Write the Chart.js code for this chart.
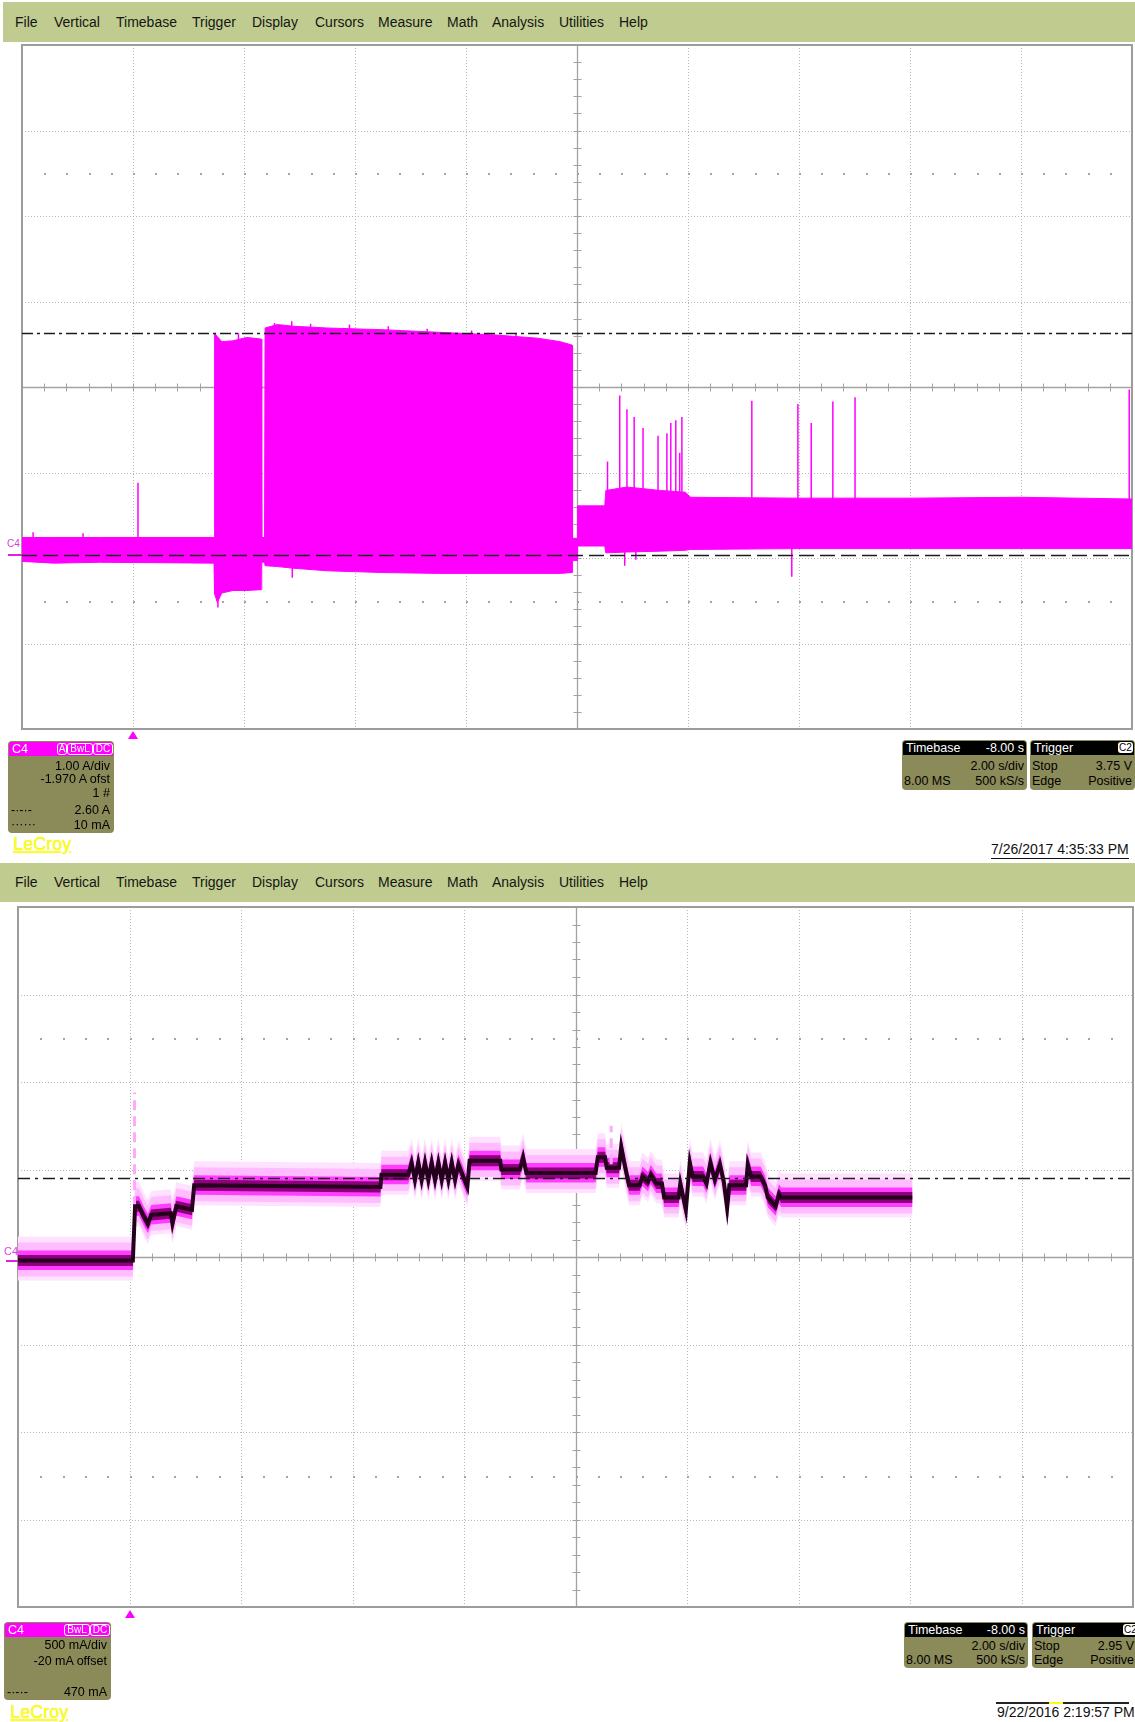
<!DOCTYPE html>
<html lang="en">
<head>
<meta charset="UTF-8">
<title>LeCroy C4 current captures</title>
<script src="https://cdn.jsdelivr.net/npm/chart.js@4.4.1/dist/chart.umd.min.js"></script>
<style>
    body {
        margin: 0;
        width: 1135px;
        height: 1722px;
        overflow: hidden;
        position: relative;
        background: #fff;
        font-family: "Liberation Sans", Arial, sans-serif;
    }
    .menu { position: absolute; right: 0; height: 40px; background: #c0cc8f; }
    .menu span { position: absolute; top: 0; line-height: 40px; font-size: 14px; color: #151515; }
    canvas { position: absolute; }
    .box { position: absolute; background: #8b8a59; border-radius: 4px; font-size: 12.5px; color: #000; overflow: hidden; }
    .box .hdr { position: absolute; left: 1px; right: 1px; top: 1px; height: 14px; border-radius: 3px 3px 0 0; }
    .mag { background: #ff00ff; }
    .blk { background: #000; }
    .box span { position: absolute; line-height: 14px; white-space: nowrap; }
    .box .w { color: #fff; }
    .box .badge { top: 2px; height: 10px; line-height: 10px; font-size: 10px; color: #fff; border: 1px solid #fff; border-radius: 3px; text-align: center; }
    .box .chip { top: 2px; height: 11px; line-height: 11px; font-size: 10px; color: #000; background: #fff; border-radius: 3px; text-align: center; }
    .brand { position: absolute; font-size: 18px; color: #ffff1e; text-decoration: underline; text-decoration-thickness: 2px; text-shadow: 0 0 1px #d8d800; }
    .stamp { position: absolute; font-size: 14px; color: #111; white-space: nowrap; }
    .trig { position: absolute; width: 0; height: 0; border-left: 5px solid transparent; border-right: 5px solid transparent; border-bottom: 8px solid #ff00ff; }
    .tag { position: absolute; font-size: 10px; color: #d23cd2; }
    .tagline { position: absolute; height: 2px; background: #e020e0; }
</style>
</head>
<body>
<div class="menu" style="left:3px;top:2px">
    <span style="left:12px">File</span><span style="left:51px">Vertical</span><span style="left:113px">Timebase</span>
    <span style="left:189px">Trigger</span><span style="left:249px">Display</span><span style="left:312px">Cursors</span>
    <span style="left:375px">Measure</span><span style="left:444px">Math</span><span style="left:489px">Analysis</span>
    <span style="left:556px">Utilities</span><span style="left:616px">Help</span>
</div>
<div class="menu" style="left:0;top:863px;height:39px">
    <span style="left:15px;line-height:39px">File</span><span style="left:54px;line-height:39px">Vertical</span><span style="left:116px;line-height:39px">Timebase</span>
    <span style="left:192px;line-height:39px">Trigger</span><span style="left:252px;line-height:39px">Display</span><span style="left:315px;line-height:39px">Cursors</span>
    <span style="left:378px;line-height:39px">Measure</span><span style="left:447px;line-height:39px">Math</span><span style="left:492px;line-height:39px">Analysis</span>
    <span style="left:559px;line-height:39px">Utilities</span><span style="left:619px;line-height:39px">Help</span>
</div>

<canvas id="topScope" width="1122" height="696" style="left:16px;top:39px"></canvas>
<canvas id="botScope" width="1127" height="712" style="left:12px;top:901px"></canvas>

<span class="tag" style="left:7px;top:538px">C4</span>
<div class="tagline" style="left:8px;top:554px;width:14px"></div>
<span class="tag" style="left:4px;top:1245px;font-size:11px;color:#e040e0">C4</span>
<div class="tagline" style="left:6px;top:1260px;width:12px"></div>
<div class="trig" style="left:128px;top:731px"></div>
<div class="trig" style="left:125px;top:1610px"></div>

<!-- top panel info -->
<div class="box" style="left:8px;top:741px;width:106px;height:92px">
    <div class="hdr mag"></div>
    <span class="w" style="left:4px;top:1px">C4</span>
    <span class="badge" style="left:49px;width:8px">A</span>
    <span class="badge" style="left:59px;width:24px">BwL</span>
    <span class="badge" style="left:85px;width:18px">DC</span>
    <span style="right:4px;top:18px">1.00 A/div</span>
    <span style="right:4px;top:31px">-1.970 A ofst</span>
    <span style="right:4px;top:45px">1 #</span>
    <span style="left:3px;top:62px">-·-·-</span>
    <span style="right:4px;top:62px">2.60 A</span>
    <span style="left:3px;top:76px">······</span>
    <span style="right:4px;top:77px">10 mA</span>
</div>
<div class="box" style="left:902px;top:740px;width:125px;height:50px">
    <div class="hdr blk"></div>
    <span class="w" style="left:4px;top:1px">Timebase</span>
    <span class="w" style="right:3px;top:1px">-8.00 s</span>
    <span style="right:3px;top:19px">2.00 s/div</span>
    <span style="left:2px;top:34px">8.00 MS</span>
    <span style="right:3px;top:34px">500 kS/s</span>
</div>
<div class="box" style="left:1030px;top:740px;width:105px;height:50px">
    <div class="hdr blk"></div>
    <span class="w" style="left:4px;top:1px">Trigger</span>
    <span class="chip" style="left:88px;width:15px">C2</span>
    <span style="left:2px;top:19px">Stop</span>
    <span style="right:3px;top:19px">3.75 V</span>
    <span style="left:2px;top:34px">Edge</span>
    <span style="right:3px;top:34px">Positive</span>
</div>
<span class="brand" style="left:13px;top:834px">LeCroy</span>
<span class="stamp" style="left:991px;top:840px;border-bottom:1px solid #111;line-height:18px">7/26/2017 4:35:33 PM</span>

<!-- bottom panel info -->
<div class="box" style="left:4px;top:1622px;width:107px;height:78px">
    <div class="hdr mag"></div>
    <span class="w" style="left:4px;top:1px">C4</span>
    <span class="badge" style="left:60px;width:24px">BwL</span>
    <span class="badge" style="left:86px;width:18px">DC</span>
    <span style="right:4px;top:16px">500 mA/div</span>
    <span style="right:4px;top:32px">-20 mA offset</span>
    <span style="left:3px;top:63px">-·-·-</span>
    <span style="right:4px;top:63px">470 mA</span>
</div>
<div class="box" style="left:904px;top:1622px;width:124px;height:46px">
    <div class="hdr blk"></div>
    <span class="w" style="left:4px;top:1px">Timebase</span>
    <span class="w" style="right:3px;top:1px">-8.00 s</span>
    <span style="right:3px;top:17px">2.00 s/div</span>
    <span style="left:2px;top:31px">8.00 MS</span>
    <span style="right:3px;top:31px">500 kS/s</span>
</div>
<div class="box" style="left:1032px;top:1622px;width:108px;height:46px">
    <div class="hdr blk"></div>
    <span class="w" style="left:4px;top:1px">Trigger</span>
    <span class="chip" style="left:91px;width:15px">C2</span>
    <span style="left:2px;top:17px">Stop</span>
    <span style="right:6px;top:17px">2.95 V</span>
    <span style="left:2px;top:31px">Edge</span>
    <span style="right:6px;top:31px">Positive</span>
</div>
<span class="brand" style="left:10px;top:1702px">LeCroy</span>
<div style="position:absolute;left:996px;top:1702px;width:133px;height:2px;background:#222"></div>
<div style="position:absolute;left:1049px;top:1702px;width:14px;height:2px;background:#ffff00"></div>
<span class="stamp" style="left:997px;top:1704px">9/22/2016 2:19:57 PM</span>

<script>
    // time axis (s), 2 s/div, trigger at 0
    const xTicks = [-2, 0, 2, 4, 6, 8, 10, 12, 14, 16, 18];
    // top: 1.00 A/div, -1.970 A offset
    const topYTicks = [-2.03, -1.03, -0.03, 0.97, 1.97, 2.97, 3.97, 4.97, 5.97];
    // bottom: 500 mA/div, -20 mA offset
    const botYTicks = [-1.98, -1.48, -0.98, -0.48, 0.02, 0.52, 1.02, 1.52, 2.02];

    // top capture, min/max envelope of C4 (A)
    const topTimes = [-2.00, -1.42, -0.60, 1.46, 1.47, 1.52, 1.60, 1.80, 2.05, 2.31, 2.32, 2.37, 2.38, 2.60, 2.90, 3.50,
        4.50, 5.50, 6.50, 7.30, 7.70, 7.91, 7.92, 8.00, 8.01, 8.50, 8.52, 8.90, 9.50, 9.95, 10.05, 12.00, 14.00, 16.00, 18.00];
    const topUpper = [0.21, 0.21, 0.21, 0.21, 2.60, 2.56, 2.50, 2.51, 2.55, 2.53, 0.21, 0.21, 2.66, 2.70, 2.68, 2.66,
        2.64, 2.61, 2.58, 2.54, 2.50, 2.46, 0.20, 0.20, 0.58, 0.58, 0.76, 0.80, 0.76, 0.74, 0.68, 0.67, 0.67, 0.68, 0.66];
    const topLower = [-0.07, -0.09, -0.08, -0.09, -0.45, -0.55, -0.44, -0.41, -0.41, -0.40, -0.08, -0.08, -0.12, -0.13, -0.15, -0.18,
        -0.20, -0.21, -0.21, -0.21, -0.21, -0.20, -0.06, -0.06, 0.11, 0.11, 0.03, 0.04, 0.05, 0.06, 0.07, 0.08, 0.08, 0.08, 0.08];
    // glitches
    const topSpikeTimes = [-1.80, -0.90, 0.09, 1.53, 1.90, 2.55, 2.86, 2.87, 3.20, 3.90, 4.60, 5.30, 6.10, 6.90,
        8.55, 8.77, 8.86, 8.90, 9.03, 9.06, 9.19, 9.46, 9.62, 9.69, 9.78, 9.85, 9.89, 11.15, 11.87, 11.98, 12.22, 12.61, 13.01, 17.95];
    const topSpikeFrom = [0.1, 0.1, 0.2, -0.4, 2.4, 2.6, 2.6, -0.1, 2.6, 2.6, 2.6, 2.5, 2.5, 2.5,
        0.6, 0.6, 0.1, 0.6, 0.6, 0.1, 0.6, 0.6, 0.6, 0.6, 0.6, 0.6, 0.6, 0.6, 0.1, 0.6, 0.6, 0.6, 0.6, 0.6];
    const topSpikeTo = [0.27, 0.26, 0.85, -0.61, 2.60, 2.72, 2.74, -0.26, 2.71, 2.70, 2.68, 2.65, 2.63, 2.60,
        1.10, 1.87, -0.12, 1.71, 1.62, -0.05, 1.49, 1.40, 1.43, 1.55, 1.58, 1.20, 1.62, 1.81, -0.25, 1.77, 1.55, 1.80, 1.85, 1.94];
    const topCursors = [2.60, 0.01];

    // bottom capture, persistence core of C4 (A)
    const botTimes = [-2.00, 0.06, 0.10, 0.17, 0.26, 0.33, 0.39, 0.74, 0.77, 0.84, 1.12, 1.16, 4.50, 4.52, 5.00,
        5.06, 5.12, 5.18, 5.24, 5.30, 5.36, 5.42, 5.48, 5.54, 5.60, 5.66, 5.72, 5.78, 5.84, 5.90, 5.96, 6.06, 6.10,
        6.65, 6.67, 7.00, 7.06, 7.12, 7.69, 8.36, 8.40, 8.53, 8.56, 8.78, 8.82, 8.88, 8.96, 9.15,
        9.20, 9.30, 9.35, 9.45, 9.55, 9.59, 9.85, 9.88, 9.98, 10.05, 10.10, 10.29, 10.35, 10.42, 10.50, 10.59, 10.66,
        10.72, 10.76, 11.06, 11.09, 11.15, 11.32, 11.40, 11.45, 11.59, 11.65, 11.69, 14.04];
    const botCurrent = [0.00, 0.00, 0.31, 0.31, 0.25, 0.21, 0.26, 0.27, 0.21, 0.31, 0.29, 0.43, 0.42, 0.49, 0.49,
        0.56, 0.46, 0.56, 0.46, 0.56, 0.46, 0.56, 0.46, 0.56, 0.46, 0.56, 0.46, 0.56, 0.46, 0.55, 0.50, 0.42, 0.57,
        0.57, 0.52, 0.52, 0.59, 0.50, 0.50, 0.50, 0.59, 0.59, 0.53, 0.53, 0.65, 0.55, 0.43, 0.43,
        0.48, 0.45, 0.49, 0.44, 0.44, 0.36, 0.36, 0.44, 0.29, 0.56, 0.48, 0.48, 0.44, 0.56, 0.46, 0.55, 0.45,
        0.30, 0.43, 0.43, 0.55, 0.48, 0.48, 0.43, 0.36, 0.31, 0.38, 0.36, 0.36];
    // thin excursions outside the dense trace
    const botSpikeTimes = [0.09, 8.64, 10.72];
    const botSpikeFrom = [0.31, 0.55, 0.40];
    const botSpikeTo = [0.96, 0.77, 0.22];
    const botCursors = [0.47];

    function hline(ctx, x1, x2, y) { ctx.beginPath(); ctx.moveTo(x1, y); ctx.lineTo(x2, y); ctx.stroke(); }
    function vline(ctx, x, y1, y2) { ctx.beginPath(); ctx.moveTo(x, y1); ctx.lineTo(x, y2); ctx.stroke(); }

    function makeGrid(yt) {
        return {
            id: 'scopeGrid',
            beforeDatasetsDraw(chart) {
                const { ctx, chartArea: a, scales: { x, y } } = chart;
                const xStep = xTicks[1] - xTicks[0], yStep = yt[1] - yt[0];
                const nx = xTicks.length - 1, ny = yt.length - 1;
                ctx.save();
                ctx.lineWidth = 1;
                ctx.strokeStyle = '#b7b7b7';
                ctx.setLineDash([1, 2]);
                xTicks.slice(1, -1).forEach(v => vline(ctx, Math.round(x.getPixelForValue(v)) + 0.5, a.top, a.bottom));
                yt.slice(1, -1).forEach(v => hline(ctx, a.left, a.right, Math.round(y.getPixelForValue(v)) + 0.5));
                ctx.setLineDash([]);
                // dotted rows 1.5 div in from top and bottom
                ctx.fillStyle = '#a4a4a4';
                [yt[0] + 1.5 * yStep, yt[ny] - 1.5 * yStep].forEach(v => {
                    const py = Math.round(y.getPixelForValue(v));
                    for (let i = 1; i < nx * 5; i++) {
                        ctx.fillRect(Math.round(x.getPixelForValue(xTicks[0] + i * xStep / 5)), py, 2, 2);
                    }
                });
                // centre axes with minor ticks
                const cx = Math.round(x.getPixelForValue(xTicks[nx / 2])) + 0.5;
                const cy = Math.round(y.getPixelForValue(yt[ny / 2])) + 0.5;
                ctx.strokeStyle = '#a2a2a2';
                ctx.lineWidth = 1.3;
                vline(ctx, cx, a.top, a.bottom);
                hline(ctx, a.left, a.right, cy);
                ctx.lineWidth = 1;
                for (let i = 1; i < nx * 5; i++) {
                    const px = Math.round(x.getPixelForValue(xTicks[0] + i * xStep / 5)) + 0.5;
                    vline(ctx, px, cy - 4, cy + 4);
                }
                for (let i = 1; i < ny * 5; i++) {
                    const py = Math.round(y.getPixelForValue(yt[0] + i * yStep / 5)) + 0.5;
                    hline(ctx, cx - 4, cx + 4, py);
                }
                ctx.strokeStyle = '#9c9c9c';
                ctx.lineWidth = 2;
                ctx.strokeRect(a.left, a.top, a.width, a.height);
                ctx.restore();
            }
        };
    }

    function makeCursors(lines) {
        return {
            id: 'cursorLines',
            afterDatasetsDraw(chart) {
                const { ctx, chartArea: a, scales: { y } } = chart;
                ctx.save();
                ctx.strokeStyle = '#1c1c1c';
                ctx.lineWidth = 1.5;
                lines.forEach(l => {
                    ctx.setLineDash(l.dash);
                    hline(ctx, a.left, a.right, Math.round(y.getPixelForValue(l.value)) + 0.5);
                });
                ctx.restore();
            }
        };
    }

    // persistence halo around a trace, drawn from the dataset's own points
    function makeBands(datasetIndex, layers) {
        return {
            id: 'persistBands',
            beforeDatasetsDraw(chart) {
                const { ctx, chartArea: a } = chart;
                const pts = chart.getDatasetMeta(datasetIndex).data;
                ctx.save();
                ctx.beginPath();
                ctx.rect(a.left, a.top, a.width, a.height);
                ctx.clip();
                layers.forEach(l => {
                    ctx.beginPath();
                    pts.forEach((p, i) => i ? ctx.lineTo(p.x, p.y - l.up) : ctx.moveTo(p.x, p.y - l.up));
                    for (let i = pts.length - 1; i >= 0; i--) ctx.lineTo(pts[i].x, pts[i].y + l.down);
                    ctx.closePath();
                    ctx.fillStyle = l.color;
                    ctx.fill();
                });
                ctx.restore();
            }
        };
    }

    function spikeData(times, from, to) {
        const out = [];
        times.forEach((t, i) => out.push({ x: t, y: from[i] }, { x: t, y: to[i] }, { x: t, y: null }));
        return out;
    }

    function scopeOptions(yt) {
        return {
            responsive: false,
            animation: false,
            events: [],
            layout: { padding: 6 },
            elements: { point: { radius: 0 }, line: { tension: 0 } },
            scales: {
                x: { type: 'linear', display: false, min: xTicks[0], max: xTicks[xTicks.length - 1] },
                y: { type: 'linear', display: false, min: yt[0], max: yt[yt.length - 1] }
            },
            plugins: { legend: { display: false }, tooltip: { enabled: false } }
        };
    }

    new Chart(document.getElementById('topScope'), {
        type: 'line',
        data: {
            datasets: [
                {
                    data: spikeData(topSpikeTimes, topSpikeFrom, topSpikeTo),
                    borderColor: '#ff00ff', borderWidth: 1.5, fill: false, spanGaps: false, clip: 0
                },
                {
                    data: topTimes.map((t, i) => ({ x: t, y: topUpper[i] })),
                    borderColor: '#ff00ff', backgroundColor: '#ff00ff', borderWidth: 1, fill: '+1', clip: 0
                },
                {
                    data: topTimes.map((t, i) => ({ x: t, y: topLower[i] })),
                    borderColor: '#ff00ff', borderWidth: 1, fill: false, clip: 0
                }
            ]
        },
        options: scopeOptions(topYTicks),
        plugins: [makeGrid(topYTicks), makeCursors([
            { value: topCursors[0], dash: [11, 4, 3, 4] },
            { value: topCursors[1], dash: [15, 6] }
        ])]
    });

    new Chart(document.getElementById('botScope'), {
        type: 'line',
        data: {
            datasets: [
                {
                    data: botTimes.map((t, i) => ({ x: t, y: botCurrent[i] })),
                    borderColor: '#24001c', borderWidth: 4, fill: false, clip: 0
                },
                {
                    data: spikeData(botSpikeTimes, botSpikeFrom, botSpikeTo),
                    borderColor: '#ffa8ff', borderWidth: 3, borderDash: [10, 6], fill: false, spanGaps: false, clip: 0
                }
            ]
        },
        options: scopeOptions(botYTicks),
        plugins: [makeGrid(botYTicks), makeBands(0, [
            { up: 24, down: 20, color: '#ffe2ff' },
            { up: 18, down: 16, color: '#ffbcff' },
            { up: 10, down: 9.5, color: '#ff3cff' },
            { up: 5.5, down: 5.5, color: '#8e007c' }
        ]), makeCursors([
            { value: botCursors[0], dash: [12, 5, 3, 5] }
        ])]
    });
</script>
</body>
</html>
